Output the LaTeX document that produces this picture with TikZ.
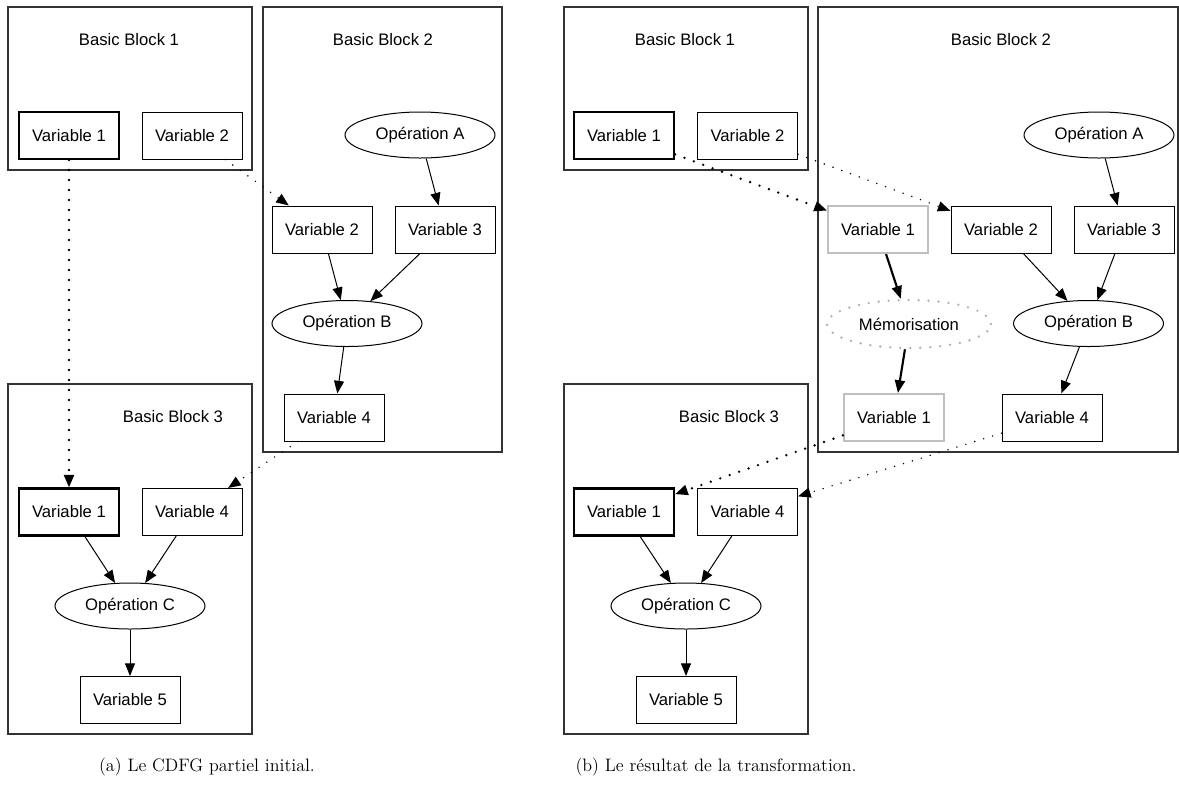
\documentclass[tikz,border=0pt]{standalone}
\usepackage{fontspec}
\newfontfamily\graphfont{Liberation Sans}
\usetikzlibrary{shapes.geometric, arrows.meta, positioning, fit}

\begin{document}
\begin{tikzpicture}[x=0.75pt, y=-0.75pt,
    var/.style={draw, rectangle, line width=0.75pt, minimum width=75pt,
                minimum height=35.25pt, inner sep=0pt,
                font=\graphfont\fontsize{12.5}{14}\selectfont},
    varkey/.style={var, line width=1.6pt},
    varcopy/.style={var, draw=black!25, line width=1.6pt},
    op/.style={draw, ellipse, line width=0.75pt, minimum width=112.5pt,
               minimum height=34.5pt, inner sep=0pt,
               font=\graphfont\fontsize{12.5}{14}\selectfont},
    memo/.style={op, draw=black!30, line width=2pt, line cap=round,
                 dash pattern=on 0pt off 7.5pt, minimum width=123pt, minimum height=36pt},
    cluster/.style={draw=black!80, line width=0.9pt, inner sep=0pt},
    title/.style={font=\graphfont\fontsize{12.5}{14}\selectfont},
    flow/.style={-{Triangle[length=9.5pt, width=7.5pt]}, line width=0.75pt},
    keyflow/.style={flow, line width=1.6pt},
    link/.style={flow, line width=1.2pt, line cap=round, dash pattern=on 0pt off 7pt},
    keylink/.style={flow, line width=2pt, line cap=round, dash pattern=on 0pt off 7.5pt},
    caption/.style={font=\fontsize{13.5}{16}\selectfont}
]
    \useasboundingbox (0,0) rectangle (1179,794);

    % (a) initial partial CDFG
    \node[cluster, fit={(8,7) (252,170)}] (blockA1) {};
    \node[cluster, fit={(263,7) (502,452)}] (blockA2) {};
    \node[cluster, fit={(8,384) (252,734)}] (blockA3) {};
    \node[title] (titleA1) at (129,40) {Basic Block 1};
    \node[title] (titleA2) at (383,40) {Basic Block 2};
    \node[title] (titleA3) at (173,417) {Basic Block 3};

    \node[varkey] (a1v1) at (69,135.5) {Variable 1};
    \node[var] (a1v2) at (192,135.5) {Variable 2};
    \node[op] (a2opA) at (420,135) {Opération A};
    \node[var] (a2v2) at (322,229.5) {Variable 2};
    \node[var] (a2v3) at (445,229.5) {Variable 3};
    \node[op] (a2opB) at (347,323.5) {Opération B};
    \node[var] (a2v4) at (334,417.5) {Variable 4};
    \node[varkey] (a3v1) at (69,512) {Variable 1};
    \node[var] (a3v4) at (192,512) {Variable 4};
    \node[op] (a3opC) at (130,606) {Opération C};
    \node[var] (a3v5) at (130,700) {Variable 5};

    \draw[keylink] (a1v1) -- (a3v1);
    \draw[link] (a1v2) -- (a2v2);
    \draw[flow] (a2opA) -- (a2v3);
    \draw[flow] (a2v2) -- (a2opB);
    \draw[flow] (a2v3) -- (a2opB);
    \draw[flow] (a2opB) -- (a2v4);
    \draw[link] (a2v4) -- (a3v4);
    \draw[flow] (a3v1) -- (a3opC);
    \draw[flow] (a3v4) -- (a3opC);
    \draw[flow] (a3opC) -- (a3v5);

    % (b) after the transformation
    \node[cluster, fit={(564,7) (808,170)}] (blockB1) {};
    \node[cluster, fit={(818,7) (1178,452)}] (blockB2) {};
    \node[cluster, fit={(564,384) (808,734)}] (blockB3) {};
    \node[title] (titleB1) at (685,40) {Basic Block 1};
    \node[title] (titleB2) at (1001,40) {Basic Block 2};
    \node[title] (titleB3) at (729,417) {Basic Block 3};

    \node[varkey] (b1v1) at (624,135.5) {Variable 1};
    \node[var] (b1v2) at (747.5,135.5) {Variable 2};
    \node[op] (b2opA) at (1099,135) {Opération A};
    \node[varcopy] (b2c1) at (878,229.5) {Variable 1};
    \node[var] (b2v2) at (1001,229.5) {Variable 2};
    \node[var] (b2v3) at (1124,229.5) {Variable 3};
    \node[memo] (b2mem) at (909,324) {Mémorisation};
    \node[op] (b2opB) at (1088.5,323.5) {Opération B};
    \node[varcopy] (b2c2) at (894,417.5) {Variable 1};
    \node[var] (b2v4) at (1052,417.5) {Variable 4};
    \node[varkey] (b3v1) at (624,512) {Variable 1};
    \node[var] (b3v4) at (747.5,512) {Variable 4};
    \node[op] (b3opC) at (686,606) {Opération C};
    \node[var] (b3v5) at (686,700) {Variable 5};

    \draw[keylink] (b1v1) -- (b2c1);
    \draw[link] (b1v2) -- (b2v2);
    \draw[flow] (b2opA) -- (b2v3);
    \draw[keyflow] (b2c1) -- (b2mem);
    \draw[keyflow] (b2mem) -- (b2c2);
    \draw[flow] (b2v2) -- (b2opB);
    \draw[flow] (b2v3) -- (b2opB);
    \draw[flow] (b2opB) -- (b2v4);
    \draw[keylink] (b2c2) -- (b3v1);
    \draw[link] (b2v4) -- (b3v4);
    \draw[flow] (b3v1) -- (b3opC);
    \draw[flow] (b3v4) -- (b3opC);
    \draw[flow] (b3opC) -- (b3v5);

    \node[caption] (capA) at (207,767) {(a) Le CDFG partiel initial.};
    \node[caption] (capB) at (716,767) {(b) Le résultat de la transformation.};
\end{tikzpicture}
\end{document}
